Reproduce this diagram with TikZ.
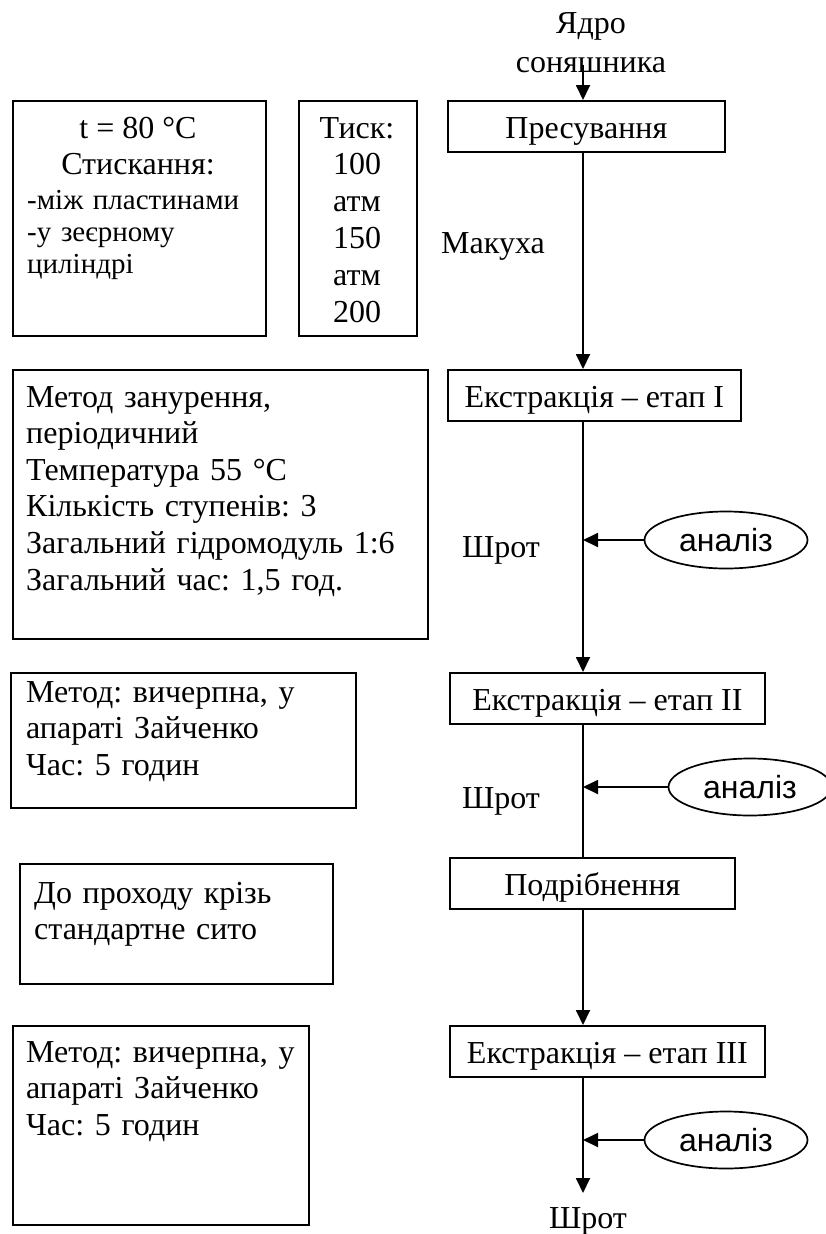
\documentclass[tikz,border=0pt]{standalone}
\usepackage{fontspec}
\setmainfont{Liberation Serif}
\newfontfamily\arialf{Liberation Sans}
\usetikzlibrary{arrows.meta,shapes.geometric}
\frenchspacing
\begin{document}
\begin{tikzpicture}[x=1pt,y=-1pt,
  every node/.style={font=\frenchspacing\fontsize{32}{36.6}\selectfont},
  line/.style={line width=1.8pt},
  arr/.style={line width=1.8pt,-{Triangle[length=15pt,width=14pt]}},
  proc/.style={draw,line width=1.7pt,minimum height=51pt,anchor=north west,inner sep=0,text height=29pt,text depth=5pt},
  pbox/.style={draw,line width=1.7pt,anchor=north west,inner sep=0},
  txt/.style={anchor=base west,inner sep=0,align=left},
  ana/.style={draw,ellipse,line width=1.7pt,minimum width=163pt,minimum height=57pt,inner sep=0,font=\arialf\fontsize{32}{36}\selectfont}]
\useasboundingbox (0,0) rectangle (825,1234);
\coordinate (sp) at (583,0);
% process boxes
\node[proc, minimum width=277pt] (pres) at (447,100) {Пресування};
\node[proc, minimum width=293pt] (ex1) at (447,369) {Екстракція – етап I};
\node[proc, minimum width=315pt] (ex2) at (449,672) {Екстракція – етап II};
\node[proc, minimum width=285pt] (grind) at (449,857) {Подрібнення};
\node[proc, minimum width=315pt] (ex3) at (449,1025) {Екстракція – етап III};
% labels
\node[anchor=base,inner sep=0] (core1) at (591,33) {Ядро};
\node[anchor=base,inner sep=0] (core2) at (591,72) {соняшника};
\node[anchor=base,inner sep=0] (cake) at (493,253) {Макуха};
\node[anchor=base,inner sep=0] (meal1) at (501,557) {Шрот};
\node[anchor=base,inner sep=0] (meal2) at (501,808) {Шрот};
\node[anchor=base,inner sep=0] (out) at (588,1228) {Шрот};
\coordinate (outtip) at (583,1193);
% flow
\draw[arr] (core2.center -| sp) -- (pres.north -| sp);
\draw[arr] (pres.south -| sp) -- (ex1.north -| sp);
\draw[arr] (ex1.south -| sp) -- (ex2.north -| sp);
\draw[line] (ex2.south -| sp) -- (grind.north -| sp);
\draw[arr] (grind.south -| sp) -- (ex3.north -| sp);
\draw[arr] (ex3.south -| sp) -- (outtip);
% analyses
\node[ana] (a1) at (726,540) {аналіз};
\node[ana] (a2) at (750,787) {аналіз};
\node[ana] (a3) at (726,1140) {аналіз};
\draw[arr] (a1.west) -- (a1.west -| sp);
\draw[arr] (a2.west) -- (a2.west -| sp);
\draw[arr] (a3.west) -- (a3.west -| sp);
% left boxes
\node[pbox, minimum width=253pt, minimum height=235pt] (b1) at (12,100) {};
\node[anchor=base,inner sep=0] (b1t1) at (138,138) {t = 80 °C};
\node[anchor=base,inner sep=0] (b1t2) at (138,174) {Стискання:};
\node[txt, text width=300pt, font=\frenchspacing\fontsize{29}{32}\selectfont] (b1t3) at (27,209) {-між пластинами\\-у зеєрному\\циліндрі};
\node[pbox, minimum width=118pt, minimum height=235pt] (b2) at (298,100) {};
\node[anchor=base, inner sep=0, text width=110pt, align=center, font=\fontsize{32}{36.8}\selectfont] (b2t) at (357,138) {Тиск:\\100\\атм\\150\\атм\\200};
\node[pbox, minimum width=415pt, minimum height=269pt] (b3) at (12,369) {};
\node[txt, text width=400pt] (b3t) at (26,407) {Метод занурення,\\періодичний\\Температура 55 °C\\Кількість ступенів: 3\\Загальний гідромодуль 1:6\\Загальний час: 1,5 год.};
\node[pbox, minimum width=345pt, minimum height=135pt] (b4) at (10,672) {};
\node[txt, text width=320pt] (b4t) at (26,702) {Метод: вичерпна, у\\апараті Зайченко\\Час: 5 годин};
\node[pbox, minimum width=313pt, minimum height=120pt] (b5) at (19,863) {};
\node[txt, text width=290pt] (b5t) at (34,903) {До проходу крізь\\стандартне сито};
\node[pbox, minimum width=296pt, minimum height=199pt] (b6) at (12,1025) {};
\node[txt, text width=280pt] (b6t) at (26,1062) {Метод: вичерпна, у\\апараті Зайченко\\Час: 5 годин};
\end{tikzpicture}
\end{document}
